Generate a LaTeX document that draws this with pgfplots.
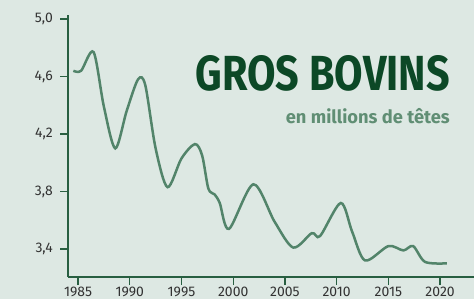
\documentclass[border=0pt]{standalone}
\usepackage{pgfplots}
\pgfplotsset{compat=1.18}
\usepackage{fontspec}
\setmainfont{Fira Sans}
\definecolor{bg}{RGB}{221,232,227}
\definecolor{linec}{RGB}{82,132,106}
\definecolor{axcol}{RGB}{40,95,65}
\definecolor{titlec}{RGB}{12,72,38}
\definecolor{subc}{RGB}{96,142,116}
\definecolor{tickc}{RGB}{50,50,50}
\begin{document}
\begin{tikzpicture}[x=1bp,y=1bp]
\fill[bg] (0,0) rectangle (474,299);
\useasboundingbox (0,0) rectangle (474,299);
\begin{axis}[
  at={(68bp,22bp)}, anchor=south west,
  scale only axis, width=406bp, height=262bp,
  xmin=1984.03, xmax=2023.28,
  ymin=3.205, ymax=5.028,
  axis x line=bottom, axis y line=left,
  axis line style={draw=axcol, line width=1.2bp, -},
  tick style={draw=axcol, line width=1.2bp},
  tick align=outside, major tick length=8bp,
  xtick={1985,1990,1995,2000,2005,2010,2015,2020},
  xticklabels={1985,1990,1995,2000,2005,2010,2015,2020},
  ytick={3.4,3.8,4.2,4.6,5.0},
  yticklabels={{3,4},{3,8},{4,2},{4,6},{5,0}},
  xticklabel style={inner sep=0pt, anchor=north, yshift=-2bp, font=\fontsize{14}{16}\selectfont, text=tickc},
  yticklabel style={inner sep=0pt, anchor=east, xshift=-7bp, font=\fontsize{14}{16}\selectfont, text=tickc},
  clip=false,
]
\addplot[linec, line width=2.5bp, smooth, tension=0.5] coordinates {
(1984.55,4.64) (1985.3,4.64) (1986.5,4.77) (1987.5,4.39) (1988.6,4.10)
(1989.7,4.36) (1990.8,4.58) (1991.5,4.54) (1992.5,4.10) (1993.65,3.83)
(1995.0,4.03) (1996.3,4.13) (1997.0,4.05) (1997.6,3.82) (1998.2,3.78)
(1998.7,3.72) (1999.6,3.54) (2001.95,3.85) (2004.0,3.59) (2005.8,3.41)
(2007.6,3.51) (2008.4,3.49) (2010.4,3.72) (2011.5,3.52) (2012.75,3.32)
(2015.0,3.42) (2016.45,3.39) (2017.4,3.42) (2018.55,3.31) (2020.65,3.30)
};
\end{axis}
\node[anchor=south east, inner sep=0pt, text=titlec] at (450,207.3)
  {\resizebox{254bp}{35bp}{\bfseries GROS BOVINS}};
\node[anchor=base east, inner sep=0pt, text=subc] at (450,176)
  {\resizebox{164bp}{!}{\fontsize{15}{18}\selectfont\bfseries en millions de têtes}};
\end{tikzpicture}
\end{document}
